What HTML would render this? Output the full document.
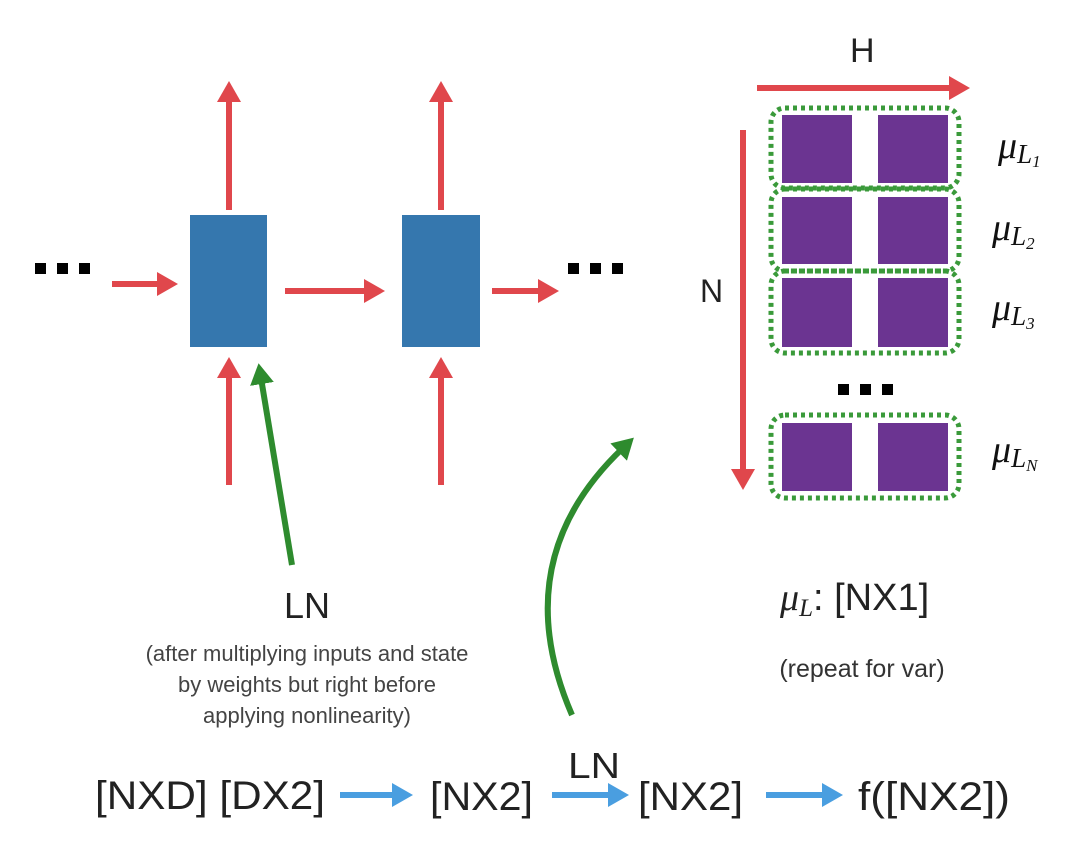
<!DOCTYPE html>
<html><head><meta charset="utf-8"><style>
html,body{margin:0;padding:0;background:#fff;}
svg{display:block;}
text{font-family:"Liberation Sans",sans-serif;}
.m{font-family:"Liberation Serif",serif;font-style:italic;}
</style></head><body>
<svg width="1090" height="864" viewBox="0 0 1090 864" xmlns="http://www.w3.org/2000/svg">
<defs>
<marker id="r" markerWidth="4" markerHeight="4" refX="1" refY="2" orient="auto" markerUnits="strokeWidth"><path d="M0,0 L3.5,2 L0,4 Z" fill="#e0474c"/></marker>
<marker id="g" markerWidth="4" markerHeight="4" refX="1" refY="2" orient="auto" markerUnits="strokeWidth"><path d="M0,0 L3.5,2 L0,4 Z" fill="#2e8b2e"/></marker>
<marker id="b" markerWidth="4" markerHeight="4" refX="1" refY="2" orient="auto" markerUnits="strokeWidth"><path d="M0,0 L3.5,2 L0,4 Z" fill="#4a9ee0"/></marker>
</defs>
<rect x="190" y="215" width="77" height="132" fill="#3577ae"/>
<rect x="402" y="215" width="78" height="132" fill="#3577ae"/>
<g stroke="#e0474c" stroke-width="6" fill="none">
<line x1="229" y1="210" x2="229" y2="96" marker-end="url(#r)"/>
<line x1="441" y1="210" x2="441" y2="96" marker-end="url(#r)"/>
<line x1="229" y1="485" x2="229" y2="372" marker-end="url(#r)"/>
<line x1="441" y1="485" x2="441" y2="372" marker-end="url(#r)"/>
<line x1="112" y1="284" x2="163" y2="284" marker-end="url(#r)"/>
<line x1="285" y1="291" x2="370" y2="291" marker-end="url(#r)"/>
<line x1="492" y1="291" x2="544" y2="291" marker-end="url(#r)"/>
<line x1="757" y1="88" x2="955" y2="88" marker-end="url(#r)"/>
<line x1="743" y1="130" x2="743" y2="475" marker-end="url(#r)"/>
</g>
<g fill="#000">
<rect x="35" y="263" width="11" height="11"/><rect x="57" y="263" width="11" height="11"/><rect x="79" y="263" width="11" height="11"/>
<rect x="568" y="263" width="11" height="11"/><rect x="590" y="263" width="11" height="11"/><rect x="612" y="263" width="11" height="11"/>
<rect x="838" y="384" width="11" height="11"/><rect x="860" y="384" width="11" height="11"/><rect x="882" y="384" width="11" height="11"/>
</g>
<g stroke="#2e8b2e" stroke-width="6" fill="none">
<line x1="292" y1="565" x2="261" y2="378" marker-end="url(#g)"/>
<path d="M572,715 Q505,560 623,448" marker-end="url(#g)"/>
</g>
<g fill="#6b3491">
<rect x="782" y="115" width="70" height="68"/><rect x="878" y="115" width="70" height="68"/>
<rect x="782" y="197" width="70" height="67"/><rect x="878" y="197" width="70" height="67"/>
<rect x="782" y="278" width="70" height="69"/><rect x="878" y="278" width="70" height="69"/>
<rect x="782" y="423" width="70" height="68"/><rect x="878" y="423" width="70" height="68"/>
</g>
<g fill="none" stroke="#3a9a3a" stroke-width="5" stroke-dasharray="4 4">
<rect x="771" y="108" width="188" height="80" rx="14"/>
<rect x="771" y="189" width="188" height="82" rx="14"/>
<rect x="771" y="271" width="188" height="82" rx="14"/>
<rect x="771" y="415" width="188" height="83" rx="14"/>
</g>
<text x="850" y="62" font-size="34" fill="#222">H</text>
<text x="700" y="302" font-size="32" fill="#222">N</text>
<g fill="#111">
<text x="998" y="158" font-size="38" class="m">μ<tspan font-size="27" dy="5">L</tspan><tspan font-size="17" dy="4">1</tspan></text>
<text x="992" y="240" font-size="38" class="m">μ<tspan font-size="27" dy="5">L</tspan><tspan font-size="17" dy="4">2</tspan></text>
<text x="992" y="320" font-size="38" class="m">μ<tspan font-size="27" dy="5">L</tspan><tspan font-size="17" dy="4">3</tspan></text>
<text x="992" y="462" font-size="38" class="m">μ<tspan font-size="27" dy="5">L</tspan><tspan font-size="17" dy="4">N</tspan></text>
</g>
<text x="780" y="610" font-size="38" fill="#222"><tspan class="m">μ</tspan><tspan class="m" font-size="25" dy="6">L</tspan><tspan dy="-6">: [NX1]</tspan></text>
<text x="862" y="677" font-size="25" fill="#333" text-anchor="middle">(repeat for var)</text>
<text x="307" y="618" font-size="36" fill="#222" text-anchor="middle">LN</text>
<g font-size="22" fill="#444" text-anchor="middle">
<text x="307" y="661">(after multiplying inputs and state</text>
<text x="307" y="692">by weights but right before</text>
<text x="307" y="723">applying nonlinearity)</text>
</g>
<g font-size="40" fill="#222">
<text x="95" y="809" textLength="230" lengthAdjust="spacingAndGlyphs">[NXD] [DX2]</text>
<text x="430" y="810" textLength="103" lengthAdjust="spacingAndGlyphs">[NX2]</text>
<text x="638" y="810" textLength="105" lengthAdjust="spacingAndGlyphs">[NX2]</text>
<text x="858" y="810" textLength="152" lengthAdjust="spacingAndGlyphs">f([NX2])</text>
<text x="568" y="778" font-size="36" textLength="52" lengthAdjust="spacingAndGlyphs">LN</text>
</g>
<g stroke="#4a9ee0" stroke-width="6" fill="none">
<line x1="340" y1="795" x2="398" y2="795" marker-end="url(#b)"/>
<line x1="552" y1="795" x2="614" y2="795" marker-end="url(#b)"/>
<line x1="766" y1="795" x2="828" y2="795" marker-end="url(#b)"/>
</g>
</svg>
</body></html>
